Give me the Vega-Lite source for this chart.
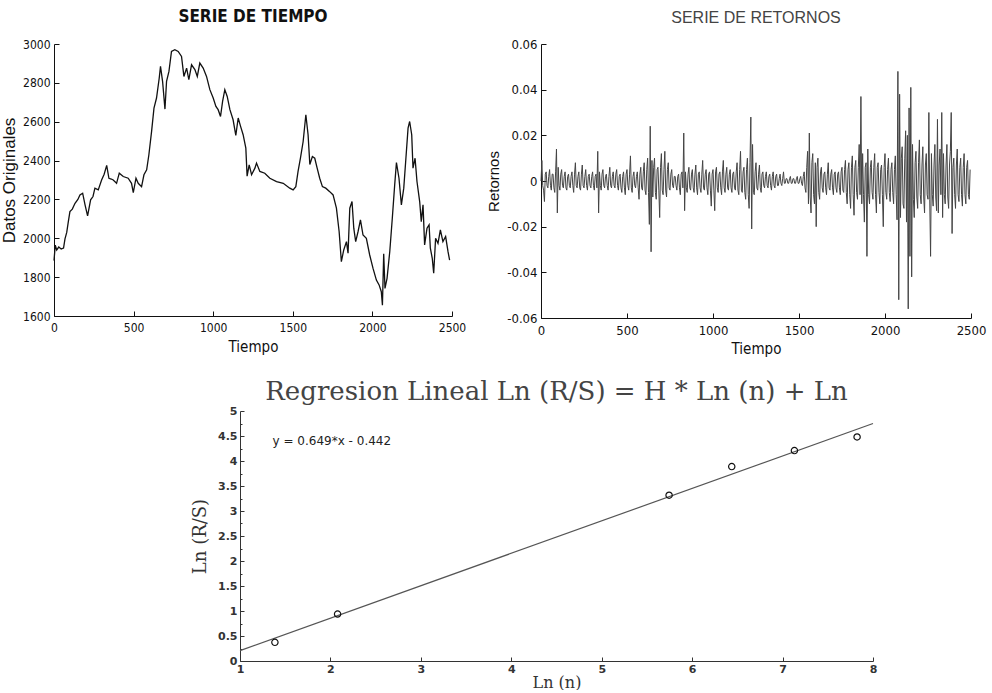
{
  "$schema": "https://vega.github.io/schema/vega-lite/v6.json",
  "background": "white",
  "padding": {"left": 0, "top": 8, "right": 4, "bottom": 0},
  "config": {
    "view": {"stroke": null},
    "axis": {"grid": false, "domainColor": "#111", "tickColor": "#111", "labelColor": "#111", "titleColor": "#111", "titleFontWeight": "normal", "domainWidth": 1, "tickWidth": 1, "labelFlush": false}
  },
  "spacing": 23,
  "vconcat": [
    {
      "spacing": 20,
      "hconcat": [
        {
          "width": 398,
          "height": 272,
          "title": {"text": "SERIE DE TIEMPO", "font": "Liberation Sans Narrow, DejaVu Sans Condensed, sans-serif", "fontSize": 17, "fontWeight": "bold", "color": "#111", "offset": 12, "anchor": "middle"},
          "data": {"values": [
            {"t":0,"v":1885},{"t":8,"v":1965},{"t":17,"v":1940},{"t":30,"v":1955},{"t":45,"v":1945},{"t":60,"v":1950},{"t":69,"v":1997},{"t":80,"v":2030},{"t":90,"v":2086},{"t":100,"v":2137},{"t":115,"v":2150},{"t":132,"v":2180},{"t":150,"v":2200},{"t":163,"v":2223},{"t":180,"v":2232},{"t":195,"v":2172},{"t":211,"v":2115},{"t":230,"v":2198},{"t":245,"v":2215},{"t":257,"v":2258},{"t":278,"v":2249},{"t":299,"v":2300},{"t":315,"v":2330},{"t":331,"v":2375},{"t":345,"v":2309},{"t":360,"v":2305},{"t":372,"v":2300},{"t":393,"v":2283},{"t":410,"v":2335},{"t":435,"v":2318},{"t":466,"v":2309},{"t":487,"v":2283},{"t":498,"v":2235},{"t":515,"v":2309},{"t":529,"v":2283},{"t":550,"v":2266},{"t":565,"v":2327},{"t":582,"v":2352},{"t":596,"v":2430},{"t":613,"v":2550},{"t":628,"v":2670},{"t":644,"v":2722},{"t":661,"v":2825},{"t":669,"v":2885},{"t":682,"v":2808},{"t":697,"v":2665},{"t":707,"v":2808},{"t":722,"v":2859},{"t":738,"v":2962},{"t":759,"v":2971},{"t":780,"v":2962},{"t":801,"v":2936},{"t":816,"v":2833},{"t":833,"v":2876},{"t":847,"v":2816},{"t":864,"v":2893},{"t":885,"v":2868},{"t":900,"v":2833},{"t":916,"v":2902},{"t":937,"v":2876},{"t":958,"v":2833},{"t":979,"v":2765},{"t":1000,"v":2722},{"t":1017,"v":2679},{"t":1031,"v":2662},{"t":1046,"v":2627},{"t":1059,"v":2705},{"t":1073,"v":2765},{"t":1088,"v":2730},{"t":1105,"v":2662},{"t":1125,"v":2610},{"t":1142,"v":2530},{"t":1157,"v":2619},{"t":1172,"v":2576},{"t":1188,"v":2533},{"t":1205,"v":2464},{"t":1213,"v":2320},{"t":1226,"v":2378},{"t":1241,"v":2327},{"t":1262,"v":2361},{"t":1272,"v":2387},{"t":1293,"v":2344},{"t":1324,"v":2335},{"t":1356,"v":2309},{"t":1398,"v":2292},{"t":1440,"v":2283},{"t":1481,"v":2258},{"t":1502,"v":2249},{"t":1519,"v":2266},{"t":1533,"v":2344},{"t":1548,"v":2412},{"t":1565,"v":2498},{"t":1582,"v":2636},{"t":1596,"v":2533},{"t":1607,"v":2380},{"t":1623,"v":2421},{"t":1638,"v":2412},{"t":1653,"v":2361},{"t":1669,"v":2309},{"t":1686,"v":2266},{"t":1707,"v":2258},{"t":1732,"v":2240},{"t":1753,"v":2223},{"t":1774,"v":2155},{"t":1791,"v":2035},{"t":1805,"v":1880},{"t":1820,"v":1940},{"t":1837,"v":1983},{"t":1847,"v":1923},{"t":1858,"v":2155},{"t":1872,"v":2189},{"t":1883,"v":2052},{"t":1895,"v":1983},{"t":1910,"v":2035},{"t":1925,"v":2095},{"t":1941,"v":2017},{"t":1962,"v":2000},{"t":1983,"v":1914},{"t":2004,"v":1845},{"t":2025,"v":1785},{"t":2042,"v":1760},{"t":2056,"v":1725},{"t":2063,"v":1655},{"t":2071,"v":1920},{"t":2079,"v":1742},{"t":2092,"v":1794},{"t":2109,"v":1931},{"t":2125,"v":2103},{"t":2140,"v":2275},{"t":2151,"v":2390},{"t":2167,"v":2309},{"t":2182,"v":2172},{"t":2197,"v":2258},{"t":2209,"v":2395},{"t":2224,"v":2567},{"t":2234,"v":2601},{"t":2247,"v":2533},{"t":2255,"v":2361},{"t":2268,"v":2412},{"t":2280,"v":2292},{"t":2297,"v":2189},{"t":2307,"v":2086},{"t":2318,"v":2172},{"t":2328,"v":1966},{"t":2343,"v":2052},{"t":2356,"v":2069},{"t":2364,"v":1949},{"t":2376,"v":1897},{"t":2385,"v":1820},{"t":2397,"v":2000},{"t":2412,"v":1974},{"t":2427,"v":2043},{"t":2443,"v":1983},{"t":2460,"v":2009},{"t":2475,"v":1931},{"t":2485,"v":1888}
          ]},
          "mark": {"type": "line", "color": "#111", "strokeWidth": 1.3},
          "encoding": {
            "x": {"field": "t", "type": "quantitative", "scale": {"domain": [0, 2500], "nice": false, "zero": false},
                  "axis": {"title": "Tiempo", "values": [0, 500, 1000, 1500, 2000, 2500], "format": "d", "tickSize": -5, "labelPadding": 11, "labelFont": "Liberation Sans Narrow, DejaVu Sans Condensed, sans-serif", "labelFontSize": 12, "titleFont": "Liberation Sans Narrow, DejaVu Sans Condensed, sans-serif", "titleFontSize": 15, "titlePadding": 6}},
            "y": {"field": "v", "type": "quantitative", "scale": {"domain": [1600, 3000], "nice": false, "zero": false},
                  "axis": {"title": "Datos Originales", "values": [1600, 1800, 2000, 2200, 2400, 2600, 2800, 3000], "format": "d", "tickSize": -5, "labelPadding": 9, "labelFont": "Liberation Sans Narrow, DejaVu Sans Condensed, sans-serif", "labelFontSize": 12, "titleFont": "Liberation Sans, Arial, sans-serif", "titleFontSize": 17, "titlePadding": 4}}
          }
        },
        {
          "width": 430,
          "height": 274,
          "title": {"text": "SERIE DE RETORNOS", "font": "Liberation Sans, Arial, sans-serif", "fontSize": 16, "fontWeight": "normal", "color": "#444", "offset": 12, "anchor": "middle"},
          "data": {"values": [
            {"t":0,"r":0.000},{"t":5,"r":0.009},{"t":10,"r":-0.002},{"t":15,"r":-0.004},{"t":20,"r":-0.009},{"t":25,"r":0.003},{"t":30,"r":0.004},{"t":35,"r":-0.002},{"t":40,"r":-0.003},{"t":45,"r":0.002},{"t":50,"r":0.005},{"t":55,"r":-0.002},{"t":60,"r":-0.004},{"t":65,"r":0.003},{"t":70,"r":0.003},{"t":75,"r":-0.003},{"t":80,"r":-0.005},{"t":85,"r":0.004},{"t":90,"r":0.014},{"t":95,"r":-0.014},
            {"t":100,"r":0.006},{"t":105,"r":-0.002},{"t":110,"r":-0.004},{"t":115,"r":0.003},{"t":120,"r":0.005},{"t":125,"r":-0.002},{"t":130,"r":-0.003},{"t":135,"r":0.002},{"t":140,"r":0.004},{"t":145,"r":-0.003},{"t":150,"r":-0.004},{"t":155,"r":0.002},{"t":160,"r":0.003},{"t":165,"r":-0.002},{"t":170,"r":-0.003},{"t":175,"r":0.002},{"t":180,"r":0.004},{"t":185,"r":-0.002},{"t":190,"r":-0.005},{"t":195,"r":0.003},
            {"t":200,"r":0.008},{"t":205,"r":-0.002},{"t":210,"r":-0.003},{"t":215,"r":0.002},{"t":220,"r":0.004},{"t":225,"r":-0.003},{"t":230,"r":-0.004},{"t":235,"r":0.003},{"t":240,"r":0.007},{"t":245,"r":-0.002},{"t":250,"r":-0.003},{"t":255,"r":0.002},{"t":260,"r":0.005},{"t":265,"r":-0.002},{"t":270,"r":-0.004},{"t":275,"r":0.002},{"t":280,"r":0.003},{"t":285,"r":-0.002},{"t":290,"r":-0.003},{"t":295,"r":0.002},
            {"t":300,"r":0.004},{"t":305,"r":-0.002},{"t":310,"r":-0.004},{"t":315,"r":0.002},{"t":320,"r":0.003},{"t":325,"r":-0.003},{"t":330,"r":0.013},{"t":335,"r":-0.014},{"t":340,"r":0.004},{"t":345,"r":-0.002},{"t":350,"r":-0.004},{"t":355,"r":0.003},{"t":360,"r":0.005},{"t":365,"r":-0.002},{"t":370,"r":-0.003},{"t":375,"r":0.002},{"t":380,"r":0.003},{"t":385,"r":-0.002},{"t":390,"r":-0.004},{"t":395,"r":0.002},
            {"t":400,"r":0.006},{"t":405,"r":-0.002},{"t":410,"r":-0.003},{"t":415,"r":0.002},{"t":420,"r":0.004},{"t":425,"r":-0.002},{"t":430,"r":-0.003},{"t":435,"r":0.003},{"t":440,"r":0.005},{"t":445,"r":-0.002},{"t":450,"r":-0.004},{"t":455,"r":0.002},{"t":460,"r":0.003},{"t":465,"r":-0.003},{"t":470,"r":-0.005},{"t":475,"r":0.002},{"t":480,"r":0.004},{"t":485,"r":-0.003},{"t":490,"r":-0.006},{"t":495,"r":0.003},
            {"t":500,"r":0.005},{"t":505,"r":-0.002},{"t":510,"r":-0.004},{"t":515,"r":0.003},{"t":520,"r":0.011},{"t":525,"r":-0.003},{"t":530,"r":-0.005},{"t":535,"r":0.002},{"t":540,"r":0.004},{"t":545,"r":-0.002},{"t":550,"r":-0.003},{"t":555,"r":0.002},{"t":560,"r":0.004},{"t":565,"r":-0.003},{"t":570,"r":-0.008},{"t":575,"r":0.003},{"t":580,"r":0.006},{"t":585,"r":-0.003},{"t":590,"r":-0.004},{"t":595,"r":0.004},
            {"t":600,"r":0.008},{"t":605,"r":-0.004},{"t":610,"r":-0.006},{"t":615,"r":0.005},{"t":620,"r":0.010},{"t":625,"r":-0.005},{"t":630,"r":-0.019},{"t":635,"r":0.024},{"t":640,"r":-0.031},{"t":645,"r":0.009},{"t":650,"r":-0.007},{"t":655,"r":0.006},{"t":660,"r":0.010},{"t":665,"r":-0.005},{"t":670,"r":-0.008},{"t":675,"r":0.005},{"t":680,"r":0.006},{"t":685,"r":-0.004},{"t":690,"r":-0.016},{"t":695,"r":0.006},
            {"t":700,"r":0.012},{"t":705,"r":-0.004},{"t":710,"r":-0.006},{"t":715,"r":0.005},{"t":720,"r":0.013},{"t":725,"r":-0.004},{"t":730,"r":-0.007},{"t":735,"r":0.005},{"t":740,"r":0.008},{"t":745,"r":-0.003},{"t":750,"r":-0.004},{"t":755,"r":0.003},{"t":760,"r":0.005},{"t":765,"r":-0.002},{"t":770,"r":-0.003},{"t":775,"r":0.002},{"t":780,"r":0.002},{"t":785,"r":-0.002},{"t":790,"r":-0.004},{"t":795,"r":0.002},
            {"t":800,"r":0.003},{"t":805,"r":-0.003},{"t":810,"r":-0.006},{"t":815,"r":0.003},{"t":820,"r":0.004},{"t":825,"r":-0.003},{"t":830,"r":0.021},{"t":835,"r":-0.013},{"t":840,"r":0.004},{"t":845,"r":-0.003},{"t":850,"r":-0.005},{"t":855,"r":0.003},{"t":860,"r":0.006},{"t":865,"r":-0.003},{"t":870,"r":-0.004},{"t":875,"r":0.003},{"t":880,"r":0.005},{"t":885,"r":-0.003},{"t":890,"r":-0.005},{"t":895,"r":0.003},
            {"t":900,"r":0.007},{"t":905,"r":-0.003},{"t":910,"r":-0.006},{"t":915,"r":0.003},{"t":920,"r":0.004},{"t":925,"r":-0.003},{"t":930,"r":-0.005},{"t":935,"r":0.003},{"t":940,"r":0.009},{"t":945,"r":-0.003},{"t":950,"r":-0.004},{"t":955,"r":0.003},{"t":960,"r":0.005},{"t":965,"r":-0.003},{"t":970,"r":-0.006},{"t":975,"r":0.003},{"t":980,"r":0.004},{"t":985,"r":-0.004},{"t":990,"r":-0.011},{"t":995,"r":0.003},
            {"t":1000,"r":0.005},{"t":1005,"r":-0.004},{"t":1010,"r":-0.013},{"t":1015,"r":0.004},{"t":1020,"r":0.006},{"t":1025,"r":-0.003},{"t":1030,"r":-0.005},{"t":1035,"r":0.003},{"t":1040,"r":0.004},{"t":1045,"r":-0.003},{"t":1050,"r":-0.006},{"t":1055,"r":0.004},{"t":1060,"r":0.009},{"t":1065,"r":-0.003},{"t":1070,"r":-0.005},{"t":1075,"r":0.003},{"t":1080,"r":0.006},{"t":1085,"r":-0.003},{"t":1090,"r":-0.004},{"t":1095,"r":0.003},
            {"t":1100,"r":0.005},{"t":1105,"r":-0.003},{"t":1110,"r":-0.005},{"t":1115,"r":0.003},{"t":1120,"r":0.004},{"t":1125,"r":-0.003},{"t":1130,"r":-0.004},{"t":1135,"r":0.004},{"t":1140,"r":0.008},{"t":1145,"r":-0.004},{"t":1150,"r":-0.006},{"t":1155,"r":0.005},{"t":1160,"r":0.013},{"t":1165,"r":-0.004},{"t":1170,"r":-0.005},{"t":1175,"r":0.004},{"t":1180,"r":0.006},{"t":1185,"r":-0.005},{"t":1190,"r":-0.008},{"t":1195,"r":0.005},
            {"t":1200,"r":0.010},{"t":1205,"r":-0.006},{"t":1210,"r":-0.012},{"t":1215,"r":0.008},{"t":1220,"r":0.028},{"t":1225,"r":-0.021},{"t":1230,"r":0.016},{"t":1235,"r":-0.005},{"t":1240,"r":-0.006},{"t":1245,"r":0.004},{"t":1250,"r":0.008},{"t":1255,"r":-0.003},{"t":1260,"r":-0.004},{"t":1265,"r":0.003},{"t":1270,"r":0.007},{"t":1275,"r":-0.003},{"t":1280,"r":-0.005},{"t":1285,"r":0.003},{"t":1290,"r":0.004},{"t":1295,"r":-0.002},
            {"t":1300,"r":-0.003},{"t":1305,"r":0.002},{"t":1310,"r":0.004},{"t":1315,"r":-0.002},{"t":1320,"r":-0.003},{"t":1325,"r":0.002},{"t":1330,"r":0.003},{"t":1335,"r":-0.002},{"t":1340,"r":-0.004},{"t":1345,"r":0.002},{"t":1350,"r":0.004},{"t":1355,"r":-0.002},{"t":1360,"r":-0.003},{"t":1365,"r":0.002},{"t":1370,"r":0.003},{"t":1375,"r":-0.002},{"t":1380,"r":-0.002},{"t":1385,"r":0.001},{"t":1390,"r":0.003},{"t":1395,"r":-0.001},
            {"t":1400,"r":-0.002},{"t":1405,"r":0.001},{"t":1410,"r":0.004},{"t":1415,"r":-0.001},{"t":1420,"r":-0.001},{"t":1425,"r":0.001},{"t":1430,"r":0.001},{"t":1435,"r":-0.001},{"t":1440,"r":-0.001},{"t":1445,"r":0.001},{"t":1450,"r":0.002},{"t":1455,"r":-0.001},{"t":1460,"r":-0.001},{"t":1465,"r":0.001},{"t":1470,"r":0.001},{"t":1475,"r":-0.001},{"t":1480,"r":-0.001},{"t":1485,"r":0.001},{"t":1490,"r":0.002},{"t":1495,"r":-0.001},
            {"t":1500,"r":-0.001},{"t":1505,"r":0.001},{"t":1510,"r":0.002},{"t":1515,"r":-0.001},{"t":1520,"r":-0.002},{"t":1525,"r":0.002},{"t":1530,"r":0.004},{"t":1535,"r":-0.003},{"t":1540,"r":-0.005},{"t":1545,"r":0.006},{"t":1550,"r":0.013},{"t":1555,"r":-0.010},{"t":1560,"r":0.021},{"t":1565,"r":-0.007},{"t":1570,"r":-0.014},{"t":1575,"r":0.008},{"t":1580,"r":0.012},{"t":1585,"r":-0.006},{"t":1590,"r":-0.010},{"t":1595,"r":0.008},
            {"t":1600,"r":-0.020},{"t":1605,"r":0.006},{"t":1610,"r":0.010},{"t":1615,"r":-0.005},{"t":1620,"r":-0.008},{"t":1625,"r":0.004},{"t":1630,"r":0.006},{"t":1635,"r":-0.003},{"t":1640,"r":-0.005},{"t":1645,"r":0.003},{"t":1650,"r":0.004},{"t":1655,"r":-0.003},{"t":1660,"r":-0.006},{"t":1665,"r":0.003},{"t":1670,"r":0.008},{"t":1675,"r":-0.003},{"t":1680,"r":-0.004},{"t":1685,"r":0.003},{"t":1690,"r":0.005},{"t":1695,"r":-0.003},
            {"t":1700,"r":-0.006},{"t":1705,"r":0.003},{"t":1710,"r":0.004},{"t":1715,"r":-0.003},{"t":1720,"r":-0.005},{"t":1725,"r":0.003},{"t":1730,"r":0.004},{"t":1735,"r":-0.003},{"t":1740,"r":-0.006},{"t":1745,"r":0.004},{"t":1750,"r":0.006},{"t":1755,"r":-0.004},{"t":1760,"r":-0.005},{"t":1765,"r":0.005},{"t":1770,"r":0.009},{"t":1775,"r":-0.005},{"t":1780,"r":-0.010},{"t":1785,"r":0.005},{"t":1790,"r":0.008},{"t":1795,"r":-0.006},
            {"t":1800,"r":-0.012},{"t":1805,"r":0.006},{"t":1810,"r":0.011},{"t":1815,"r":-0.006},{"t":1820,"r":-0.015},{"t":1825,"r":0.006},{"t":1830,"r":0.009},{"t":1835,"r":-0.005},{"t":1840,"r":-0.008},{"t":1845,"r":0.006},{"t":1850,"r":0.016},{"t":1855,"r":-0.006},{"t":1860,"r":0.037},{"t":1865,"r":-0.010},{"t":1870,"r":0.012},{"t":1875,"r":-0.006},{"t":1880,"r":-0.018},{"t":1885,"r":0.006},{"t":1890,"r":0.008},{"t":1895,"r":-0.033},
            {"t":1900,"r":0.014},{"t":1905,"r":-0.006},{"t":1910,"r":-0.010},{"t":1915,"r":0.006},{"t":1920,"r":0.009},{"t":1925,"r":-0.005},{"t":1930,"r":-0.008},{"t":1935,"r":0.006},{"t":1940,"r":0.012},{"t":1945,"r":-0.006},{"t":1950,"r":-0.014},{"t":1955,"r":0.006},{"t":1960,"r":0.008},{"t":1965,"r":-0.005},{"t":1970,"r":-0.010},{"t":1975,"r":0.005},{"t":1980,"r":0.007},{"t":1985,"r":-0.006},{"t":1990,"r":-0.020},{"t":1995,"r":0.006},
            {"t":2000,"r":0.012},{"t":2005,"r":-0.005},{"t":2010,"r":-0.008},{"t":2015,"r":0.005},{"t":2020,"r":0.010},{"t":2025,"r":-0.005},{"t":2030,"r":-0.009},{"t":2035,"r":0.005},{"t":2040,"r":0.008},{"t":2045,"r":-0.005},{"t":2050,"r":-0.010},{"t":2055,"r":0.005},{"t":2060,"r":0.011},{"t":2065,"r":-0.006},{"t":2070,"r":-0.017},{"t":2075,"r":0.048},{"t":2080,"r":-0.052},{"t":2085,"r":0.038},{"t":2090,"r":-0.016},{"t":2095,"r":0.010},
            {"t":2100,"r":0.015},{"t":2105,"r":-0.010},{"t":2110,"r":-0.012},{"t":2115,"r":0.010},{"t":2120,"r":0.022},{"t":2125,"r":-0.018},{"t":2130,"r":0.020},{"t":2135,"r":-0.056},{"t":2140,"r":0.032},{"t":2145,"r":-0.033},{"t":2150,"r":0.041},{"t":2155,"r":-0.042},{"t":2160,"r":0.016},{"t":2165,"r":-0.008},{"t":2170,"r":-0.016},{"t":2175,"r":0.008},{"t":2180,"r":0.013},{"t":2185,"r":-0.007},{"t":2190,"r":-0.012},{"t":2195,"r":0.008},
            {"t":2200,"r":0.018},{"t":2205,"r":-0.006},{"t":2210,"r":-0.010},{"t":2215,"r":0.007},{"t":2220,"r":0.015},{"t":2225,"r":-0.007},{"t":2230,"r":-0.014},{"t":2235,"r":0.007},{"t":2240,"r":0.012},{"t":2245,"r":-0.006},{"t":2250,"r":-0.008},{"t":2255,"r":0.030},{"t":2260,"r":-0.008},{"t":2265,"r":-0.033},{"t":2270,"r":0.012},{"t":2275,"r":-0.006},{"t":2280,"r":-0.011},{"t":2285,"r":0.007},{"t":2290,"r":0.016},{"t":2295,"r":-0.007},
            {"t":2300,"r":-0.013},{"t":2305,"r":0.027},{"t":2310,"r":-0.014},{"t":2315,"r":0.007},{"t":2320,"r":0.014},{"t":2325,"r":-0.006},{"t":2330,"r":0.030},{"t":2335,"r":-0.016},{"t":2340,"r":0.012},{"t":2345,"r":-0.006},{"t":2350,"r":-0.010},{"t":2355,"r":0.007},{"t":2360,"r":0.016},{"t":2365,"r":-0.007},{"t":2370,"r":-0.012},{"t":2375,"r":0.007},{"t":2380,"r":0.013},{"t":2385,"r":0.030},{"t":2390,"r":-0.023},{"t":2395,"r":0.006},
            {"t":2400,"r":0.010},{"t":2405,"r":-0.006},{"t":2410,"r":-0.012},{"t":2415,"r":0.007},{"t":2420,"r":0.014},{"t":2425,"r":-0.006},{"t":2430,"r":-0.009},{"t":2435,"r":0.006},{"t":2440,"r":0.010},{"t":2445,"r":-0.006},{"t":2450,"r":-0.011},{"t":2455,"r":0.006},{"t":2460,"r":0.012},{"t":2465,"r":-0.006},{"t":2470,"r":-0.010},{"t":2475,"r":0.006},{"t":2480,"r":0.009},{"t":2485,"r":-0.006},{"t":2490,"r":-0.008},{"t":2495,"r":0.005}
          ]},
          "mark": {"type": "line", "color": "#444", "strokeWidth": 1},
          "encoding": {
            "x": {"field": "t", "type": "quantitative", "scale": {"domain": [0, 2500], "nice": false, "zero": false},
                  "axis": {"title": "Tiempo", "values": [0, 500, 1000, 1500, 2000, 2500], "format": "d", "tickSize": -5, "labelPadding": 11, "labelFont": "Liberation Sans Narrow, DejaVu Sans Condensed, sans-serif", "labelFontSize": 13, "titleFont": "Liberation Sans Narrow, DejaVu Sans Condensed, sans-serif", "titleFontSize": 15, "titlePadding": 4}},
            "y": {"field": "r", "type": "quantitative", "scale": {"domain": [-0.06, 0.06], "nice": false, "zero": false},
                  "axis": {"title": "Retornos", "values": [-0.06, -0.04, -0.02, 0, 0.02, 0.04, 0.06], "labelExpr": "datum.value == 0 ? '0' : replace(format(datum.value, '.2f'), '\u2212', '-')", "tickSize": -5, "labelPadding": 9, "labelFont": "Liberation Sans Narrow, DejaVu Sans Condensed, sans-serif", "labelFontSize": 13, "titleFont": "Liberation Sans, Arial, sans-serif", "titleFontSize": 15, "titlePadding": 5}}
          }
        }
      ]
    },
    {
      "spacing": 16,
      "hconcat": [
        {
          "width": 121,
          "height": 10,
          "data": {"values": [{"s": 0}]},
          "mark": {"type": "point", "opacity": 0},
          "encoding": {}
        },
        {
          "width": 633,
          "height": 250,
          "title": {"text": "Regresion Lineal Ln (R/S) = H * Ln (n) + Ln", "font": "DejaVu Serif", "fontSize": 26, "fontWeight": "normal", "color": "#444", "offset": 0, "anchor": "middle"},
          "encoding": {
            "x": {"field": "x", "type": "quantitative", "scale": {"domain": [1, 8], "nice": false, "zero": false},
                  "axis": {"title": "Ln (n)", "values": [1, 2, 3, 4, 5, 6, 7, 8], "format": "d", "tickSize": -4, "labelPadding": 6, "labelFont": "DejaVu Sans", "labelFontSize": 11, "labelFontWeight": "bold", "labelColor": "#333", "titleFont": "DejaVu Serif", "titleFontSize": 16, "titleColor": "#333", "titlePadding": 0, "domainColor": "#333", "tickColor": "#333"}},
            "y": {"field": "y", "type": "quantitative", "scale": {"domain": [0, 5], "nice": false, "zero": false},
                  "axis": {"title": "Ln (R/S)", "values": [0, 0.25, 0.5, 0.75, 1, 1.25, 1.5, 1.75, 2, 2.25, 2.5, 2.75, 3, 3.25, 3.5, 3.75, 4, 4.25, 4.5, 4.75, 5], "labelExpr": "datum.value % 0.5 == 0 ? format(datum.value, '.1~f') : ''", "tickSize": {"condition": {"test": "datum.value % 0.5 != 0", "value": -2}, "value": -4}, "labelPadding": 7, "labelFont": "DejaVu Sans", "labelFontSize": 11, "labelFontWeight": "bold", "labelColor": "#333", "titleFont": "DejaVu Serif", "titleFontSize": 18, "titleColor": "#333", "titlePadding": 8, "domainColor": "#333", "tickColor": "#333"}}
          },
          "layer": [
            {
              "data": {"values": [{"x": 1, "y": 0.207}, {"x": 8, "y": 4.75}]},
              "mark": {"type": "line", "color": "#555", "strokeWidth": 1.2}
            },
            {
              "data": {"values": [{"x": 1.386, "y": 0.373}, {"x": 2.079, "y": 0.939}, {"x": 5.745, "y": 3.316}, {"x": 6.438, "y": 3.888}, {"x": 7.131, "y": 4.208}, {"x": 7.824, "y": 4.481}]},
              "mark": {"type": "point", "shape": "circle", "filled": false, "color": "#111", "strokeWidth": 1.2, "size": 40, "opacity": 1}
            },
            {
              "data": {"values": [{"x": 1.36, "y": 4.4, "label": "y = 0.649*x - 0.442"}]},
              "mark": {"type": "text", "align": "left", "baseline": "middle", "font": "DejaVu Sans", "fontSize": 12, "color": "#222"},
              "encoding": {"text": {"field": "label"}}
            }
          ]
        }
      ]
    }
  ]
}
